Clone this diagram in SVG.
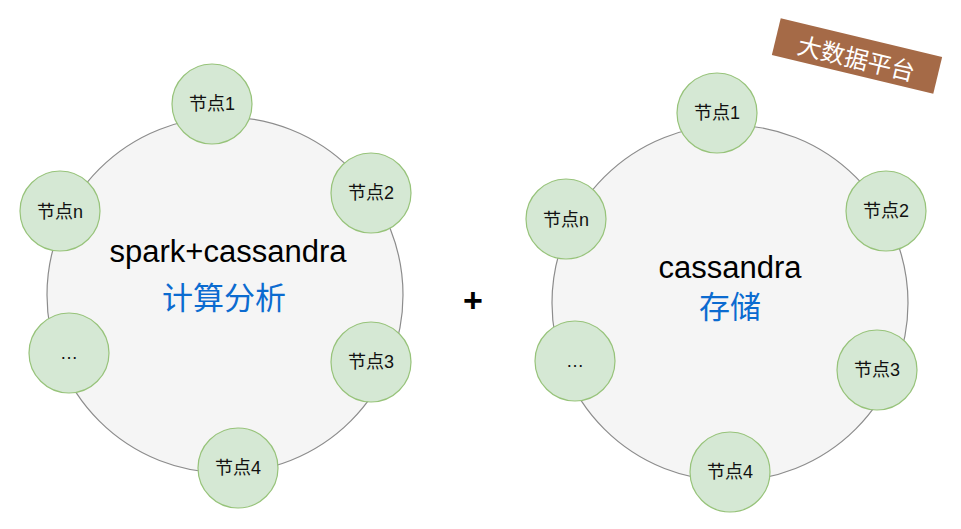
<svg xmlns="http://www.w3.org/2000/svg" width="961" height="529" viewBox="0 0 961 529">
<style>
.ring{fill:#f5f5f5;stroke:#8c8c8c;stroke-width:1.2}
.node{fill:#d5e8d4;stroke:#97c37a;stroke-width:1.2}
.nt{font-family:"Liberation Sans","Noto Sans CJK SC",sans-serif;font-size:18px;fill:#111;text-anchor:middle;dominant-baseline:central}
.title{font-family:"Liberation Sans","Noto Sans CJK SC",sans-serif;font-size:31px;fill:#000;text-anchor:middle}
.sub{font-family:"Noto Sans CJK SC",sans-serif;font-size:31px;fill:#0b6bd0;text-anchor:middle}
</style>
<rect width="961" height="529" fill="#ffffff"/>
<g id="cluster-compute">
<circle class="ring" cx="225" cy="295" r="178"/>
<text class="title" x="228" y="262">spark+cassandra</text>
<text class="sub" x="224" y="309">计算分析</text>
</g>
<g id="cluster-storage">
<circle class="ring" cx="730" cy="303" r="178"/>
<text class="title" x="730" y="278">cassandra</text>
<text class="sub" x="730" y="318">存储</text>
</g>
<g id="connectors"></g>
<g id="l-node1"><circle class="node" cx="212" cy="104" r="40"/><text class="nt" x="212" y="104">节点1</text></g>
<g id="l-node2"><circle class="node" cx="371" cy="193" r="40"/><text class="nt" x="371" y="193">节点2</text></g>
<g id="l-noden"><circle class="node" cx="60" cy="211" r="40"/><text class="nt" x="60" y="212">节点n</text></g>
<g id="l-more"><circle class="node" cx="69" cy="353" r="40"/><text class="nt" x="69" y="353">…</text></g>
<g id="l-node3"><circle class="node" cx="371" cy="362" r="40"/><text class="nt" x="371" y="362">节点3</text></g>
<g id="l-node4"><circle class="node" cx="238" cy="468" r="40"/><text class="nt" x="238" y="468">节点4</text></g>
<g id="r-node1"><circle class="node" cx="717" cy="113" r="40"/><text class="nt" x="717" y="113">节点1</text></g>
<g id="r-node2"><circle class="node" cx="886" cy="211" r="40"/><text class="nt" x="886" y="211">节点2</text></g>
<g id="r-noden"><circle class="node" cx="566" cy="219" r="40"/><text class="nt" x="566" y="220">节点n</text></g>
<g id="r-more"><circle class="node" cx="575" cy="361" r="40"/><text class="nt" x="575" y="361">…</text></g>
<g id="r-node3"><circle class="node" cx="877" cy="370" r="40"/><text class="nt" x="877" y="370">节点3</text></g>
<g id="r-node4"><circle class="node" cx="730" cy="472" r="40"/><text class="nt" x="730" y="472">节点4</text></g>
<g id="plus"><text x="473" y="300" font-family="Liberation Sans,sans-serif" font-size="34" font-weight="bold" fill="#000" text-anchor="middle" dominant-baseline="central">+</text></g>
<g id="badge" transform="translate(857,56) rotate(13.5)">
<rect x="-83" y="-19" width="166" height="38" fill="#a56a47"/>
<text x="0" y="1" font-family="Noto Sans CJK SC,sans-serif" font-size="24" fill="#ffffff" text-anchor="middle" dominant-baseline="central">大数据平台</text>
</g>
</svg>
